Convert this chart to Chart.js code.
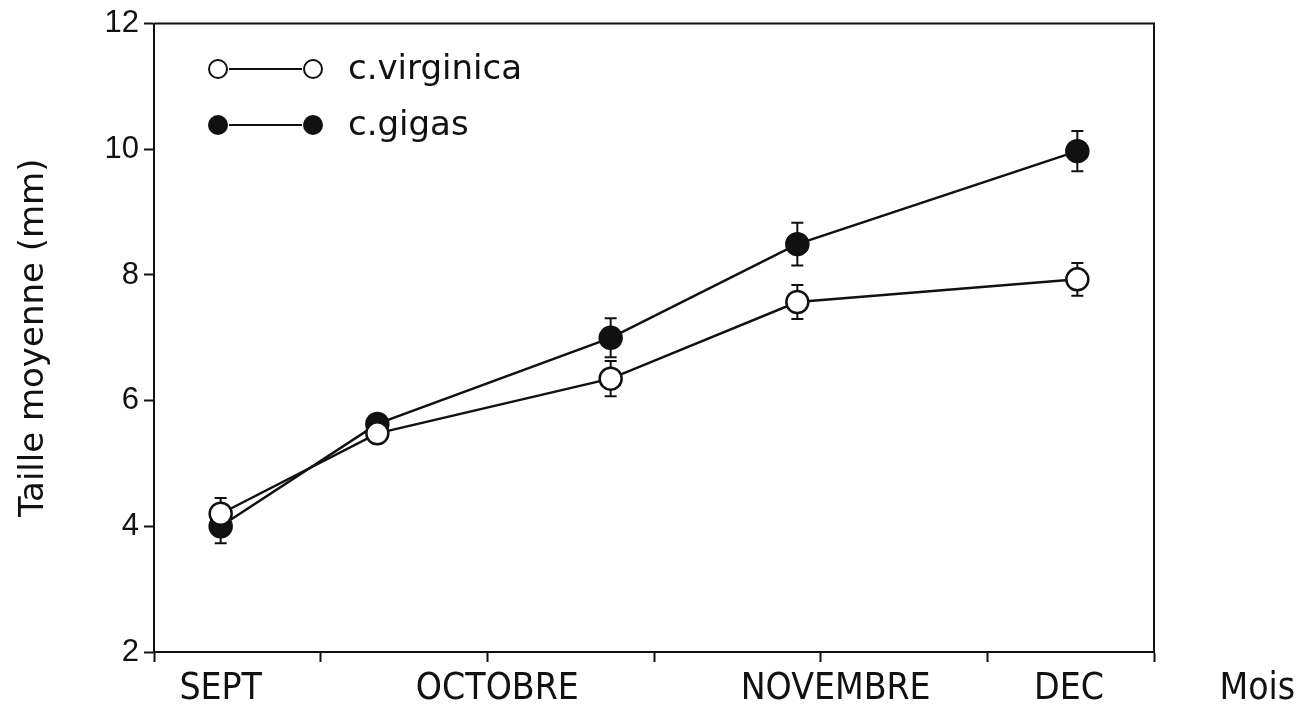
<!DOCTYPE html>
<html>
<head>
<meta charset="utf-8">
<script src="https://cdn.jsdelivr.net/npm/chart.js@4.4.1/dist/chart.umd.min.js"></script>
<style>
  html, body { margin: 0; padding: 0; background: #fff; }
  #wrap { width: 1309px; height: 709px; }
</style>
</head>
<body>
<div id="wrap"><canvas id="tailleChart"></canvas></div>
<script>
// Sampling dates, in months from the start of the x axis
const samplePos = [0.40, 1.34, 2.74, 3.86, 5.54];

// Mean size (mm) and error for each species
const virginica = [4.20, 5.48, 6.35, 7.57, 7.93];
const virginicaErr = [0.25, 0.10, 0.28, 0.27, 0.26];
const gigas = [4.00, 5.63, 7.00, 8.49, 9.97];
const gigasErr = [0.27, 0.10, 0.31, 0.34, 0.32];

// Month names under the x axis and where they sit
const monthLabels = ['SEPT', 'OCTOBRE', 'NOVEMBRE', 'DEC'];
const monthPos = [0.40, 2.06, 4.09, 5.49];
const xAxisName = 'Mois';
const xAxisNamePos = 6.62;

const yTicks = [2, 4, 6, 8, 10, 12];

const toPoints = (vals) => vals.map((v, i) => ({ x: samplePos[i], y: v }));

// Vertical error bars with caps, drawn under the markers
const errorBars = {
    id: 'errorBars',
    beforeDatasetsDraw(chart) {
        const ctx = chart.ctx;
        const xs = chart.scales.x, ys = chart.scales.y;
        const sets = [[virginica, virginicaErr], [gigas, gigasErr]];
        ctx.save();
        ctx.strokeStyle = '#111';
        ctx.lineWidth = 2;
        sets.forEach(([vals, errs]) => {
            vals.forEach((v, i) => {
                const px = xs.getPixelForValue(samplePos[i]);
                const top = ys.getPixelForValue(v + errs[i]);
                const bot = ys.getPixelForValue(v - errs[i]);
                ctx.beginPath();
                ctx.moveTo(px, top);
                ctx.lineTo(px, bot);
                ctx.moveTo(px - 6, top);
                ctx.lineTo(px + 6, top);
                ctx.moveTo(px - 6, bot);
                ctx.lineTo(px + 6, bot);
                ctx.stroke();
            });
        });
        ctx.restore();
    }
};

// Box frame, month labels and the legend block
const decorations = {
    id: 'decorations',
    afterDraw(chart) {
        const ctx = chart.ctx;
        const a = chart.chartArea;
        const xs = chart.scales.x;
        ctx.save();
        ctx.strokeStyle = '#111';
        ctx.lineWidth = 2;
        ctx.beginPath();
        ctx.moveTo(a.left, a.top);
        ctx.lineTo(a.right, a.top);
        ctx.lineTo(a.right, a.bottom);
        ctx.stroke();

        ctx.fillStyle = '#111';
        ctx.textAlign = 'center';
        ctx.textBaseline = 'middle';
        ctx.font = '37px "Liberation Sans Narrow", "DejaVu Sans Condensed", "Liberation Sans", sans-serif';
        monthLabels.forEach((m, i) => {
            ctx.fillText(m, xs.getPixelForValue(monthPos[i]), 689);
        });
        ctx.fillText(xAxisName, xs.getPixelForValue(xAxisNamePos), 689);

        // legend
        const rows = [
            { label: 'c.virginica', filled: false, y: 69 },
            { label: 'c.gigas', filled: true, y: 125 }
        ];
        rows.forEach(r => {
            ctx.lineWidth = 2;
            ctx.beginPath();
            ctx.moveTo(229, r.y);
            ctx.lineTo(302, r.y);
            ctx.stroke();
            [218, 313].forEach(cx => {
                ctx.beginPath();
                ctx.arc(cx, r.y, 9, 0, Math.PI * 2);
                ctx.fillStyle = r.filled ? '#111' : '#fff';
                ctx.fill();
                ctx.stroke();
            });
            ctx.fillStyle = '#111';
            ctx.textAlign = 'left';
            ctx.font = '34px "DejaVu Sans", sans-serif';
            ctx.fillText(r.label, 348, r.y + 1);
        });
        ctx.restore();
    }
};

new Chart(document.getElementById('tailleChart'), {
    type: 'scatter',
    data: {
        datasets: [
            {
                label: 'c.virginica',
                data: toPoints(virginica),
                showLine: true,
                borderColor: '#111',
                borderWidth: 2.5,
                pointRadius: 11,
                pointBorderWidth: 2.5,
                pointBackgroundColor: '#fff',
                pointBorderColor: '#111'
            },
            {
                label: 'c.gigas',
                data: toPoints(gigas),
                showLine: true,
                borderColor: '#111',
                borderWidth: 2.5,
                pointRadius: 11,
                pointBorderWidth: 2.5,
                pointBackgroundColor: '#111',
                pointBorderColor: '#111'
            }
        ]
    },
    options: {
        responsive: true,
        maintainAspectRatio: false,
        animation: false,
        layout: {
            padding: { top: 20, right: 155, left: 0, bottom: 0 }
        },
        scales: {
            x: {
                type: 'linear',
                min: 0,
                max: 6,
                ticks: { stepSize: 1, display: false },
                grid: {
                    drawOnChartArea: false,
                    drawTicks: true,
                    tickLength: 10,
                    tickColor: '#111',
                    tickWidth: 2
                },
                border: { display: true, color: '#111', width: 2 },
                afterFit(scale) { scale.height = 57; }
            },
            y: {
                min: 2,
                max: 12,
                afterBuildTicks(scale) {
                    scale.ticks = yTicks.map(v => ({ value: v }));
                },
                ticks: {
                    color: '#111',
                    padding: 5,
                    font: { family: '"Liberation Sans", sans-serif', size: 31 }
                },
                grid: {
                    drawOnChartArea: false,
                    drawTicks: true,
                    tickLength: 10,
                    tickColor: '#111',
                    tickWidth: 2
                },
                border: { display: true, color: '#111', width: 2 },
                title: {
                    display: true,
                    text: 'Taille moyenne (mm)',
                    color: '#111',
                    font: { family: '"DejaVu Sans", sans-serif', size: 34 },
                    padding: { top: 14, bottom: 0 }
                },
                afterFit(scale) { scale.width = 154; }
            }
        },
        plugins: {
            legend: { display: false },
            tooltip: { enabled: false }
        }
    },
    plugins: [errorBars, decorations]
});
</script>
</body>
</html>
